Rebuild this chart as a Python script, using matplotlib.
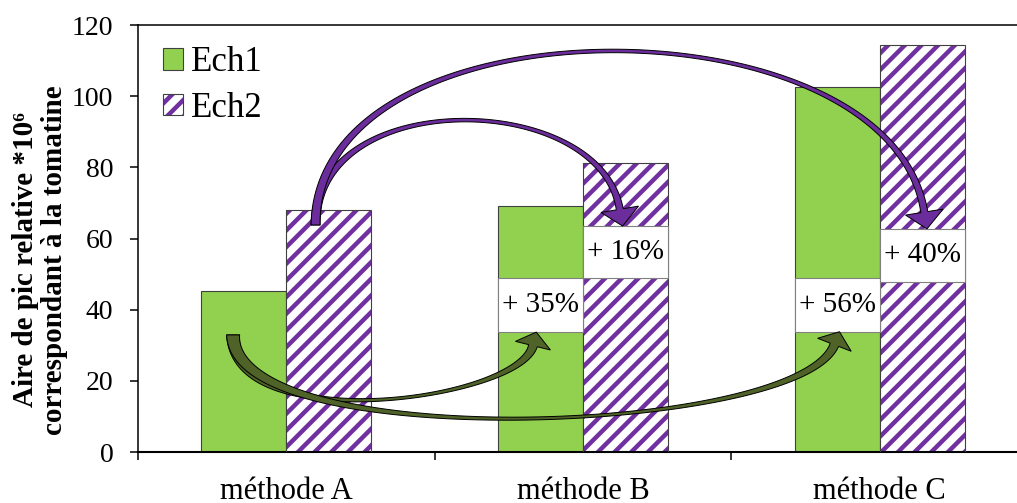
import matplotlib

matplotlib.use("Agg")
import matplotlib.pyplot as plt
import numpy as np
from matplotlib.patches import Patch, Polygon, Rectangle
from matplotlib.transforms import IdentityTransform

plt.rcParams["font.family"] = ["Liberation Serif", "DejaVu Serif"]
plt.rcParams["hatch.linewidth"] = 3.2

CATEGORIES = ["méthode A", "méthode B", "méthode C"]
SERIES = ["Ech1", "Ech2"]
ECH1 = [45.2, 69.2, 102.5]
ECH2 = [68.0, 81.3, 114.3]

# gain labels: which bar they sit on and the band they cover
GAIN_TEXT = ["+ 35%", "+ 16%", "+ 56%", "+ 40%"]
GAIN_CAT = [1, 1, 2, 2]
GAIN_SERIES = [0, 1, 0, 1]
GAIN_LOW = [33.7, 48.9, 33.8, 47.9]
GAIN_HIGH = [48.9, 63.5, 48.9, 62.7]

GREEN = "#92D050"
PURPLE = "#7030A0"
OLIVE = "#4F6228"
EDGE = "#404040"
BAR_W = 0.287


def bar_x(cat, series):
    return cat + (series - 0.5) * BAR_W


def ribbon_arrow(ax, p0, p1, p2, tip, widths, head_w, head_len, color):
    """Curved block arrow (cubic Bezier body of varying width), in pixels."""
    c0, c1, c2, t = ax.transData.transform([p0, p1, p2, tip])
    d = t - c2
    d = d / np.hypot(*d)
    c3 = t - d * head_len
    s = np.linspace(0, 1, 120)[:, None]
    curve = (1 - s) ** 3 * c0 + 3 * (1 - s) ** 2 * s * c1 + 3 * (1 - s) * s ** 2 * c2 + s ** 3 * c3
    deriv = 3 * (1 - s) ** 2 * (c1 - c0) + 6 * (1 - s) * s * (c2 - c1) + 3 * s ** 2 * (c3 - c2)
    normal = np.column_stack([-deriv[:, 1], deriv[:, 0]])
    normal /= np.hypot(normal[:, 0], normal[:, 1])[:, None]
    u = s[:, 0]
    w0, wm, w1 = widths
    w = w0 * (1 - u) * (1 - 2 * u) + 4 * wm * u * (1 - u) + w1 * u * (2 * u - 1)
    left = curve + normal * w[:, None] / 2
    right = curve - normal * w[:, None] / 2
    n_end = normal[-1]
    head = np.array([c3 + n_end * head_w / 2, t, c3 - n_end * head_w / 2])
    verts = np.vstack([left, head, right[::-1]])
    ax.add_patch(Polygon(verts, closed=True, transform=IdentityTransform(),
                         facecolor=color, edgecolor="black", linewidth=0.7,
                         zorder=6, clip_on=False))


fig = plt.figure(figsize=(10.17, 5.03), dpi=100)
ax = fig.add_axes([138 / 1017, 51 / 503, 890 / 1017, 427 / 503])
ax.set_xlim(-0.5, 2.5)
ax.set_ylim(0, 120)

x = np.arange(len(CATEGORIES))
ax.bar(x + bar_x(0, 0), ECH1, BAR_W, color=GREEN, edgecolor=EDGE, linewidth=0.8, zorder=2)
ax.bar(x + bar_x(0, 1), ECH2, BAR_W, color="white", hatch="//", edgecolor=PURPLE,
       linewidth=0, zorder=2)
ax.bar(x + bar_x(0, 1), ECH2, BAR_W, fill=False, edgecolor=EDGE, linewidth=0.8, zorder=3)

for txt, c, sr, lo, hi in zip(GAIN_TEXT, GAIN_CAT, GAIN_SERIES, GAIN_LOW, GAIN_HIGH):
    xc = bar_x(c, sr)
    ax.add_patch(Rectangle((xc - BAR_W / 2, lo), BAR_W, hi - lo, facecolor="white",
                           edgecolor="#808080", linewidth=0.8, zorder=4))
    ax.text(xc, (lo + hi) / 2, txt, ha="center", va="center", fontsize=21, zorder=5)

# purple arrows: Ech2 of method A -> Ech2 of B and C
start_p = (bar_x(0, 1) - 0.045, 63.8)
ribbon_arrow(ax, start_p, (start_p[0], 103.0), (1.056, 101.7),
             (bar_x(1, 1) - 0.01, GAIN_HIGH[1]), (9, 3.5, 7), 38, 17, "#6B2C9C")
ribbon_arrow(ax, start_p, (start_p[0], 128.4), (2.034, 128.4),
             (bar_x(2, 1) + 0.016, GAIN_HIGH[3]), (9, 3.5, 7), 38, 17, "#6B2C9C")

# green arrows: Ech1 of method A -> Ech1 of B and C
start_g = (bar_x(0, 0) - 0.036, 32.9)
ribbon_arrow(ax, start_g, (start_g[0], 3.6), (0.786, 14.6),
             (bar_x(1, 0) - 0.014, GAIN_LOW[0]), (13, 3, 9), 36, 14, OLIVE)
ribbon_arrow(ax, start_g, (start_g[0], -0.8), (1.73, 4.8),
             (bar_x(2, 0) + 0.008, GAIN_LOW[2]), (13, 3, 9), 36, 14, OLIVE)

# axes styling
for side in ("left", "top"):
    ax.spines[side].set_linewidth(1.1)
ax.spines["bottom"].set_linewidth(1.5)
ax.spines["right"].set_visible(False)
ax.set_yticks(range(0, 121, 20))
ax.tick_params(axis="y", direction="out", length=5.8, width=1.1, pad=12, labelsize=20)
ax.set_xticks(x)
ax.set_xticklabels(CATEGORIES)
ax.set_xticks([-0.5, 0.5, 1.5, 2.5], minor=True)
ax.tick_params(axis="x", which="major", length=0, pad=18, labelsize=22)
ax.tick_params(axis="x", which="minor", direction="out", length=5.8, width=1.1)

handles = [
    Patch(facecolor=GREEN, edgecolor=EDGE, linewidth=0.8),
    (Patch(facecolor="white", hatch="//", edgecolor=PURPLE, linewidth=0),
     Patch(fill=False, edgecolor=EDGE, linewidth=0.8)),
]
ax.legend(handles, SERIES, loc="upper left", bbox_to_anchor=(0.028, 0.95),
          frameon=False, fontsize=25, handlelength=0.57, handleheight=0.57,
          handletextpad=0.25, labelspacing=0.35, borderaxespad=0, borderpad=0)

fig.text(40 / 1017, 1 - 260 / 503, "Aire de pic relative *10⁶\ncorrespondant à la tomatine",
         rotation=90, ha="center", va="center", fontsize=21, fontweight="bold",
         linespacing=1.05, multialignment="center")

fig.savefig("out.png", dpi=100)
